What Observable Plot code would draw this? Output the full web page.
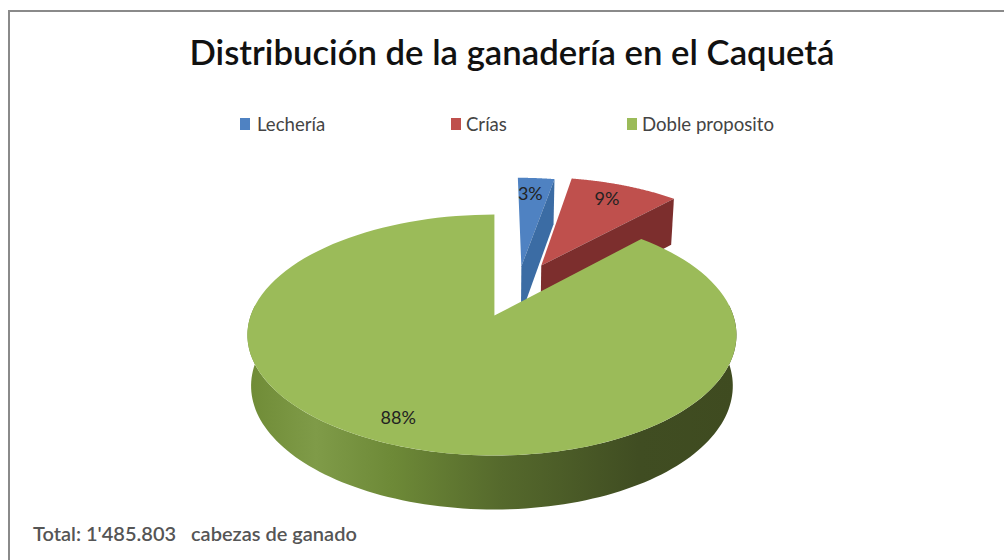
<!DOCTYPE html>
<html lang="es">
<head>
<meta charset="utf-8">
<script src="https://cdn.jsdelivr.net/npm/d3@7"></script>
<script src="https://cdn.jsdelivr.net/npm/@observablehq/plot@0.6"></script>
<style>
  html, body { margin: 0; padding: 0; background: #fff; }
  #page { position: relative; width: 1004px; height: 560px; overflow: hidden; font-family: Lato, sans-serif; }
  #frame { position: absolute; left: 8px; top: 10px; width: 1040px; height: 600px; border: 2px solid #8a8a8a; box-sizing: border-box; }
  #chart { position: absolute; left: 0; top: 0; }
  #chart svg { display: block; background: none; }
  h1 { position: absolute; left: 0; width: 1024px; top: 31px; margin: 0; text-align: center; font: 600 34.7px Lato, sans-serif; color: #111; }
  .key { position: absolute; top: 113px; font: 400 18.6px Lato, sans-serif; color: #444; line-height: 22px; white-space: nowrap; }
  .key i { position: absolute; top: 5px; width: 10px; height: 12px; }
  #total { position: absolute; left: 33px; top: 521px; font: 600 20px Lato, sans-serif; color: #555; white-space: pre; }
</style>
</head>
<body>
<div id="page">
  <div id="frame"></div>
  <div id="chart"></div>
  <h1 id="title"></h1>
  <div id="legend"></div>
  <div id="total"></div>
</div>
<script>
// Chart content
const titleText = "Distribución de la ganadería en el Caquetá";
const totalText = "Total: 1'485.803   cabezas de ganado";
const categories = ["Lechería", "Crías", "Doble proposito"];
const shares = [3, 9, 88];
const topColors = ["#4f82c2", "#bf504d", "#9bbb59"];
const wallColors = ["#3b6ca4", "#7c2e2d", "#55692b"];
const legendX = [240, 451, 627];
const legendPad = [17, 15, 15];

// Pie geometry: unit disc seen in perspective, with slices pulled out of the centre
const perspective = 0.162;
const lean = 0.01;
const explode = [[0.12, -0.45], [0.209, -0.4576], [0, 0]];
const thickness = (v) => (50.3 + 3.7 * v) / 117.3;
const labelRadius = [0.8, 0.8, 0.84];
const labelTurn = [-0.02, -0.02, 0.05];

const project = (u, v, drop = 0) => {
  const w = 1 - perspective * v;
  const shrink = drop ? 0.985 : 1;
  const px = u / w;
  return {x: (px + lean * (1 - px * px)) * shrink, y: v / w + (drop ? thickness(v) : 0)};
};
const TAU = Math.PI * 2;
const arcPoints = (a0, a1, [du, dv], drop) =>
  d3.range(0, 121).map((i) => {
    const a = a0 + ((a1 - a0) * i) / 120;
    return project(du + Math.sin(a), dv - Math.cos(a), drop);
  });

let running = 0;
const slices = categories.map((name, i) => {
  const start = (running / 100) * TAU;
  running += shares[i];
  const end = (running / 100) * TAU;
  return {name, share: shares[i], start, end, offset: explode[i], top: topColors[i], wall: wallColors[i], turn: labelTurn[i], labelR: labelRadius[i]};
});

// Faces of one slice, built from its share of the circle
const topFace = (s) => [project(s.offset[0], s.offset[1]), ...arcPoints(s.start, s.end, s.offset, false)];
const cutFace = (s) => {
  const [du, dv] = s.offset;
  const ou = du + Math.sin(s.end), ov = dv - Math.cos(s.end);
  return [project(du, dv), project(ou, ov), project(ou, ov, true), project(du, dv, true)];
};
const rimFace = (s) => {
  // Only the near part of the rim is visible from the viewer's side
  const a0 = Math.PI * 0.47, a1 = Math.PI * 1.53;
  return [...arcPoints(a0, a1, s.offset, false), ...arcPoints(a0, a1, s.offset, true).reverse()];
};

const face = (points, fill) => Plot.line(points, {x: "x", y: "y", fill, stroke: null, curve: "linear"});

const labels = slices.map((s) => {
  const mid = (s.start + s.end) / 2 + s.turn;
  const p = project(s.offset[0] + s.labelR * Math.sin(mid), s.offset[1] - s.labelR * Math.cos(mid));
  return {...p, text: `${s.share}%`};
});

// Shading along the rim of the large slice
const rimGradient = () => {
  const defs = d3.create("svg:defs");
  const g = defs.append("linearGradient").attr("id", "rimShade").attr("x1", 0).attr("x2", 1).attr("y1", 0).attr("y2", 0);
  [[0, "#6f8b36"], [0.14, "#7f9b48"], [0.3, "#6d8937"], [0.52, "#55692c"], [0.8, "#404d22"], [1, "#3f4b20"]]
    .forEach(([o, c]) => g.append("stop").attr("offset", o).attr("stop-color", c));
  return defs.node();
};

const [blue, red, green] = slices;
const chart = Plot.plot({
  width: 1004,
  height: 560,
  margin: 0,
  x: {axis: null, domain: [-1, 1], range: [250.2, 732.8]},
  y: {axis: null, domain: [-1, 1], range: [197.7, 432.3]},
  style: {background: "none"},
  marks: [
    rimGradient,
    face(topFace(blue), blue.top),
    face(cutFace(blue), blue.wall),
    face(topFace(red), red.top),
    face(cutFace(red), red.wall),
    face(rimFace(green), "url(#rimShade)"),
    face(topFace(green), green.top),
    Plot.text(labels, {x: "x", y: "y", text: "text", fontSize: 18, fontFamily: "Lato, sans-serif", fill: "#222"})
  ]
});
document.getElementById("chart").append(chart);

document.getElementById("title").textContent = titleText;
document.getElementById("total").textContent = totalText;
const legend = d3.select("#legend");
categories.forEach((name, i) => {
  const k = legend.append("div").attr("class", "key").style("left", `${legendX[i]}px`).style("padding-left", `${legendPad[i]}px`).text(name);
  k.append("i").style("left", 0).style("background", topColors[i]);
});
</script>
</body>
</html>
